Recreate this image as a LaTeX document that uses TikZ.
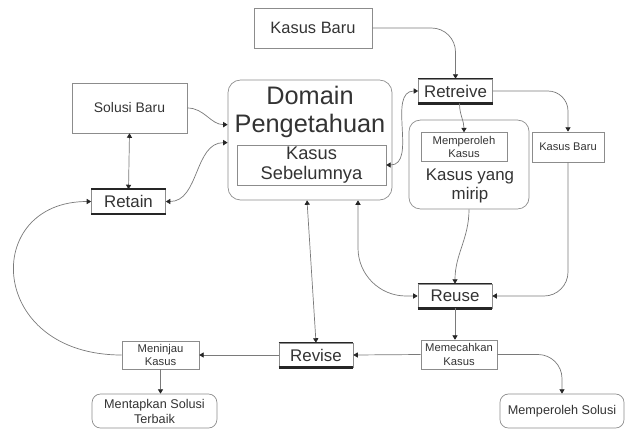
\documentclass[tikz,border=0pt]{standalone}
\usepackage{fontspec}
\setmainfont{Liberation Sans}
\usepackage{xcolor}
\usetikzlibrary{positioning,arrows.meta,calc}
\definecolor{ink}{HTML}{333333}
\definecolor{wire}{HTML}{7A7A7A}
\definecolor{frame}{HTML}{8C8C8C}
\tikzset{
  box/.style   ={draw=frame, line width=0.5pt, inner sep=1pt, align=center, text=ink},
  rbox/.style  ={box, rounded corners=6pt},
  phase/.style ={draw=frame, line width=0.5pt, minimum width=1.85cm, minimum height=0.6cm, inner sep=1pt, font=\fontsize{12}{14}\selectfont, text=ink},
  topbar/.style={line width=1.1pt, black!85},
  botbar/.style={line width=1.9pt, black!85},
  tip/.tip     ={Triangle[length=1.1mm,width=1.3mm,color=black!85]},
  edge/.style  ={-tip, wire, line width=0.5pt},
  dedge/.style ={tip-tip, wire, line width=0.5pt},
}

\begin{document}
\begin{tikzpicture}[x=0.025cm, y=-0.025cm]
  \useasboundingbox (0,0) rectangle (625,430);
  % knowledge domain
  \node[rbox, minimum width=4.1cm, minimum height=3cm, rounded corners=9pt] (D) at (310,140) {};
  \node[text=ink, align=center, font=\fontsize{18}{20}\selectfont] (Dt) at (310,112) {Domain\\Pengetahuan};
  \node[box, minimum width=3.72cm, minimum height=1cm, font=\fontsize{13}{14.5}\selectfont] (Ks) at (311.5,165) {Kasus\\Sebelumnya};
  % similar cases
  \node[rbox, minimum width=3cm, minimum height=2.22cm, rounded corners=8pt] (Km) at (469,164.5) {};
  \node[box, minimum width=2.15cm, minimum height=0.72cm, font=\fontsize{8}{9.3}\selectfont] (Mk) at (464,147) {Memperoleh\\Kasus};
  \node[text=ink, align=center, font=\fontsize{12}{13.5}\selectfont] (Kmt) at (470,186) {Kasus yang\\mirip};
  % other boxes
  \node[box, minimum width=2.95cm, minimum height=1cm, font=\fontsize{11.7}{13}\selectfont] (Kb) at (313,28) {Kasus Baru};
  \node[box, minimum width=2.88cm, minimum height=1.25cm, font=\fontsize{9.9}{11}\selectfont] (Sb) at (129.5,108) {Solusi Baru};
  \node[box, minimum width=1.8cm, minimum height=0.75cm, font=\fontsize{7.9}{9}\selectfont] (Kb2) at (568,147) {Kasus Baru};
  \node[box, minimum width=1.9cm, minimum height=0.72cm, font=\fontsize{8}{9.3}\selectfont] (Mc) at (459,354.5) {Memecahkan\\Kasus};
  \node[box, minimum width=1.92cm, minimum height=0.7cm, font=\fontsize{8}{9.3}\selectfont] (Mn) at (160.5,355) {Meninjau\\Kasus};
  \node[rbox, minimum width=3.12cm, minimum height=0.85cm, font=\fontsize{9}{10.7}\selectfont] (Mt) at (154.5,411) {Mentapkan Solusi\\Terbaik};
  \node[rbox, minimum width=3.1cm, minimum height=0.85cm, font=\fontsize{9}{10.7}\selectfont] (Ms) at (562,411) {Memperoleh Solusi};
  % phases
  \node[phase] (Rtv) at (455.5,91)  {Retreive};
  \node[phase] (Rtn) at (128.5,201.5) {Retain};
  \node[phase] (Rus) at (455,296)   {Reuse};
  \node[phase] (Rvs) at (316,355)   {Revise};
  \foreach \n in {Rtv,Rtn,Rus,Rvs} {
    \draw[topbar] (\n.north west) -- (\n.north east);
    \draw[botbar] (\n.south west) -- (\n.south east);
  }
  % connectors
  \draw[edge, rounded corners=0.6cm] (Kb.east) -| (Rtv.north);
  \draw[edge, rounded corners=0.5cm] (Rtv.east) -| (Kb2.north);
  \draw[edge] ([xshift=0.1cm]Rtv.south) to[out=-90,in=90] (Mk.north);
  \draw[dedge] (Ks.east) to[out=0,in=180] (Rtv.west);
  \draw[edge] (Sb.east) to[out=0,in=180] ($(D.north west)+(0,45)$);
  \draw[dedge] (Rtn.east) to[out=0,in=180] ($(D.north west)+(0,63)$);
  \draw[dedge] (Sb.south) -- (Rtn.north);
  \draw[edge] (Km.south) to[out=-90,in=90] (Rus.north);
  \draw[edge, rounded corners=0.6cm] (Kb2.south) |- (Rus.east);
  \draw[dedge, rounded corners=1.2cm] ($(D.south)+(48,0)$) |- (Rus.west);
  \draw[dedge] ($(D.south)+(-3,0)$) -- (Rvs.north);
  \draw[edge] (Rus.south) -- (Rus.south |- Mc.north);
  \draw[edge] (Mc.west) -- (Rvs.east);
  \draw[edge, rounded corners=0.6cm] (Mc.east) -| (Ms.north);
  \draw[edge] (Rvs.west) -- (Mn.east);
  \draw[edge] (Mn.south) -- (Mn.south |- Mt.north);
  \draw[edge] (Mn.west) .. controls +(-135,0) and +(-110,0) .. (Rtn.west);
\end{tikzpicture}
\end{document}
